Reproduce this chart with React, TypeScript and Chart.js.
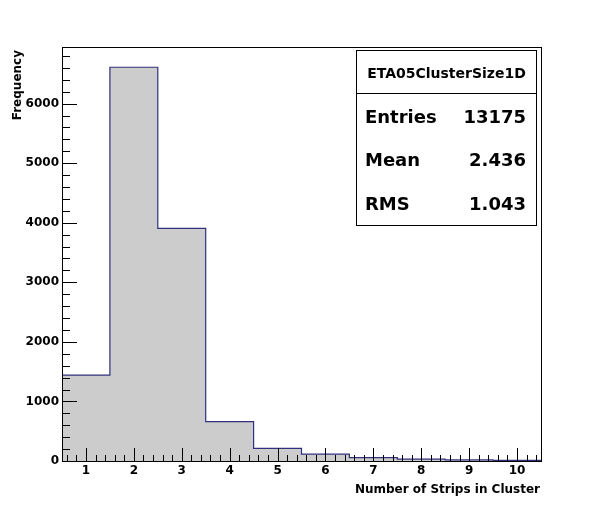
import { useEffect, useRef } from 'react';
import { Chart, registerables } from 'chart.js';

Chart.register(...registerables);

// ---- data ----
const BIN_CENTERS = [1, 2, 3, 4, 5, 6, 7, 8, 9, 10];
const COUNTS = [1440, 6610, 3905, 660, 213, 115, 58, 32, 18, 10];
const X_TICKS = [1, 2, 3, 4, 5, 6, 7, 8, 9, 10];
const Y_TICKS = [0, 1000, 2000, 3000, 4000, 5000, 6000];
const X_MIN = 0.5;
const X_MAX = 10.5;
const Y_MAX = 6950;
const X_TITLE = 'Number of Strips in Cluster';
const Y_TITLE = 'Frequency';
const STATS_TITLE = 'ETA05ClusterSize1D';
const STATS_LABELS = ['Entries', 'Mean', 'RMS'];
const STATS_VALUES = ['13175', '2.436', '1.043'];

const FONT = 'DejaVu Sans';

const rootPlugin = {
  id: 'rootStyle',
  afterDatasetsDraw(chart: any) {
    const { ctx, chartArea: a, scales } = chart;
    const xs = scales.x;
    const ys = scales.y;
    ctx.save();
    ctx.strokeStyle = '#000';
    ctx.lineWidth = 1;
    // frame
    ctx.strokeRect(Math.round(a.left) + 0.5, Math.round(a.top) + 0.5, Math.round(a.right - a.left), Math.round(a.bottom - a.top));
    // x ticks (inward)
    ctx.beginPath();
    for (let i = Math.ceil(X_MIN * 5); i <= Math.floor(X_MAX * 5); i++) {
      const v = i / 5;
      if (v <= X_MIN || v >= X_MAX) continue;
      const px = Math.round(xs.getPixelForValue(v)) + 0.5;
      const len = i % 5 === 0 ? 13 : 6;
      ctx.moveTo(px, a.bottom);
      ctx.lineTo(px, a.bottom - len);
    }
    // y ticks (inward)
    for (let v = 200; v < Y_MAX; v += 200) {
      const py = Math.round(ys.getPixelForValue(v)) + 0.5;
      const len = v % 1000 === 0 ? 15 : 8;
      ctx.moveTo(a.left, py);
      ctx.lineTo(a.left + len, py);
    }
    ctx.stroke();
    ctx.restore();
  },
  afterDraw(chart: any) {
    const { ctx, chartArea: a } = chart;
    ctx.save();
    ctx.fillStyle = '#000';
    // axis titles
    ctx.font = `bold 12px "${FONT}"`;
    ctx.textAlign = 'right';
    ctx.textBaseline = 'alphabetic';
    ctx.fillText(X_TITLE, a.right - 1, 493);
    ctx.save();
    ctx.translate(21, a.top + 3);
    ctx.rotate(-Math.PI / 2);
    ctx.fillText(Y_TITLE, 0, 0);
    ctx.restore();

    // stats box
    const bx = 356.5, by = 50.5, bw = 180, bh = 175;
    ctx.fillStyle = '#fff';
    ctx.fillRect(bx, by, bw, bh);
    ctx.strokeStyle = '#000';
    ctx.lineWidth = 1;
    ctx.strokeRect(bx, by, bw, bh);
    ctx.beginPath();
    ctx.moveTo(bx, 93.5);
    ctx.lineTo(bx + bw, 93.5);
    ctx.stroke();
    ctx.fillStyle = '#000';
    ctx.font = `bold 14px "${FONT}"`;
    ctx.textAlign = 'center';
    ctx.fillText(STATS_TITLE, bx + bw / 2, 78);
    ctx.font = `bold 18px "${FONT}"`;
    const rows = [123, 166, 210];
    STATS_LABELS.forEach((lab, i) => {
      ctx.textAlign = 'left';
      ctx.fillText(lab, 365, rows[i]);
      ctx.textAlign = 'right';
      ctx.fillText(STATS_VALUES[i], 526, rows[i]);
    });
    ctx.restore();
  },
};

export default function App() {
  const ref = useRef<HTMLCanvasElement | null>(null);
  useEffect(() => {
    if (!ref.current) return;
    const points = BIN_CENTERS.map((c, i) => ({ x: c - 0.5, y: COUNTS[i] }));
    points.push({ x: BIN_CENTERS[BIN_CENTERS.length - 1] + 0.5, y: COUNTS[COUNTS.length - 1] });
    const tickFont = { family: FONT, weight: 'bold' as const, size: 12 };
    const chart = new Chart(ref.current, {
      type: 'line',
      data: {
        datasets: [
          {
            data: points,
            stepped: 'before',
            fill: 'origin',
            backgroundColor: '#cccccc',
            borderColor: '#30307e',
            borderWidth: 1.2,
            pointRadius: 0,
          } as any,
        ],
      },
      options: {
        animation: false,
        responsive: false,
        layout: { padding: { top: 47, right: 57, left: 0, bottom: 0 } },
        plugins: { legend: { display: false }, tooltip: { enabled: false } },
        scales: {
          x: {
            type: 'linear',
            min: X_MIN,
            max: X_MAX,
            afterBuildTicks: (s: any) => {
              s.ticks = X_TICKS.map((v) => ({ value: v }));
            },
            afterFit: (s: any) => {
              s.height = 57;
            },
            grid: { display: false, drawTicks: false },
            border: { display: false },
            ticks: {
              font: tickFont,
              color: '#000',
              padding: 3,
              maxRotation: 0,
              autoSkip: false,
              callback: (v: any) => String(v),
            },
          },
          y: {
            type: 'linear',
            min: 0,
            max: Y_MAX,
            afterBuildTicks: (s: any) => {
              s.ticks = Y_TICKS.map((v) => ({ value: v }));
            },
            afterFit: (s: any) => {
              s.width = 62;
            },
            grid: { display: false, drawTicks: false },
            border: { display: false },
            ticks: {
              font: tickFont,
              color: '#000',
              padding: 3,
              autoSkip: false,
              callback: (v: any) => String(v),
            },
          },
        },
      },
      plugins: [rootPlugin],
    });
    return () => chart.destroy();
  }, []);
  return (
    <div style={{ position: 'absolute', left: 0, top: 0, width: 598, height: 518, background: '#fff' }}>
      <canvas ref={ref} width={598} height={518} style={{ display: 'block' }} />
    </div>
  );
}
